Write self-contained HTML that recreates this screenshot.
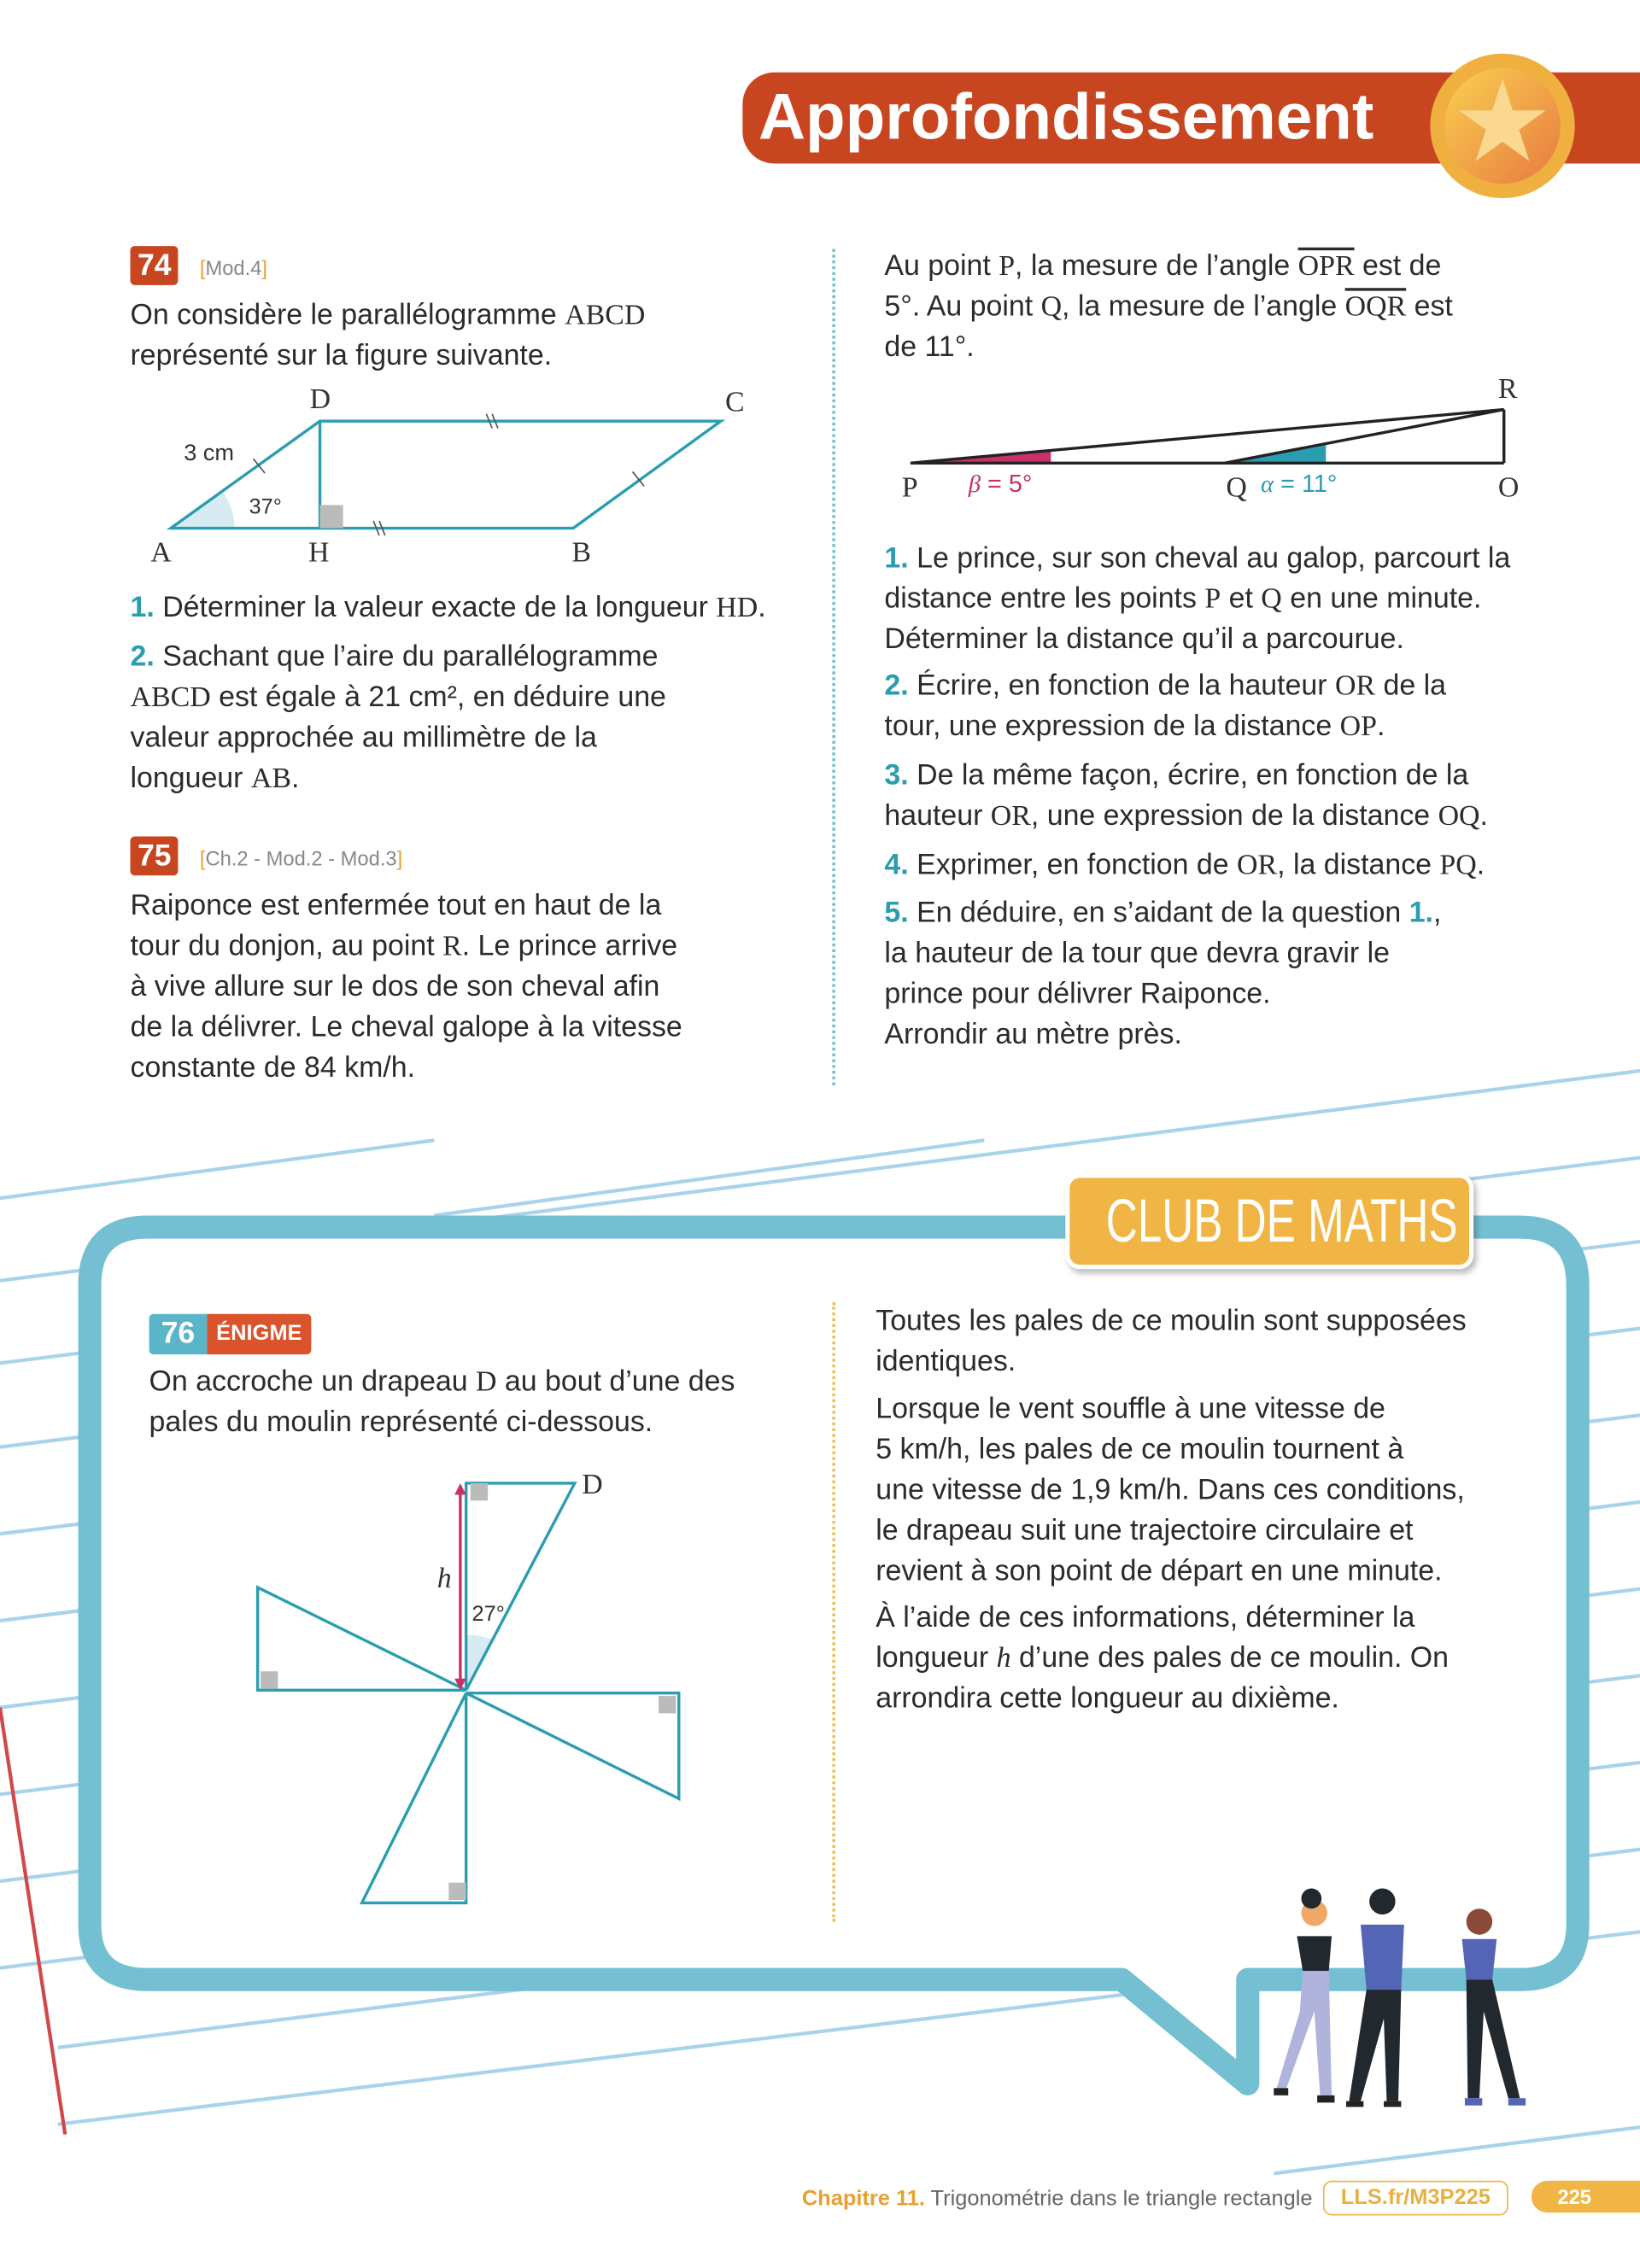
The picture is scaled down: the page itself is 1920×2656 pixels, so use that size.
<!DOCTYPE html>
<html><head><meta charset="utf-8">
<style>
html,body{margin:0;padding:0;background:#fff;}
body{width:1920px;height:2656px;overflow:hidden;position:relative;}
#pg{position:absolute;left:0;top:0;width:1133px;height:1567px;transform:scale(1.69462);transform-origin:0 0;font-family:"Liberation Sans",sans-serif;color:#2b2b2b;}
.t{position:absolute;font-size:20px;line-height:28px;white-space:nowrap;}
.s{font-family:"Liberation Serif",serif;}
.n{color:#2a9db0;font-weight:bold;}
.badge{position:absolute;background:#c8461f;color:#fff;font-weight:bold;font-size:21px;padding:0 5px;height:27px;line-height:27px;border-radius:3px;}
.ref{position:absolute;font-size:14px;color:#888;}
.ref b{color:#e8a030;font-weight:normal;}
</style></head><body>
<div id="pg">
<svg style="position:absolute;left:0;top:0" width="1133" height="1567">
<g stroke="#a9d3ec" stroke-width="2.5">
<line x1="0" y1="828" x2="300" y2="788"/>
<line x1="300" y1="840" x2="680" y2="788"/>
<line x1="0" y1="885" x2="1133" y2="740"/>
<line x1="0" y1="942" x2="1133" y2="800"/>
<line x1="0" y1="1000" x2="1133" y2="858"/>
<line x1="0" y1="1060" x2="1133" y2="918"/>
<line x1="0" y1="1120" x2="1133" y2="978"/>
<line x1="0" y1="1180" x2="1133" y2="1038"/>
<line x1="0" y1="1240" x2="1133" y2="1098"/>
<line x1="0" y1="1300" x2="1133" y2="1158"/>
<line x1="0" y1="1360" x2="1133" y2="1218"/>
<line x1="40" y1="1415" x2="1133" y2="1278"/>
<line x1="40" y1="1468" x2="1133" y2="1335"/>
<line x1="880" y1="1502" x2="1133" y2="1470"/>
</g>
<line x1="0" y1="1180" x2="45" y2="1475" stroke="#d0494a" stroke-width="2.5"/>
<path d="M102 848 H1050 Q1090 848 1090 888 V1330 Q1090 1368 1050 1368 H862 V1440 L775 1368 H102 Q62 1368 62 1330 V888 Q62 848 102 848 Z" fill="#fff" stroke="#75bfd2" stroke-width="16" stroke-linejoin="round"/>
</svg>
<div style="position:absolute;left:513px;top:50px;width:620px;height:63px;background:#c8461f;border-radius:22px 0 0 22px;"></div>
<div class="t" style="left:524px;top:52px;font-size:45px;line-height:58px;font-weight:bold;color:#fff;">Approfondissement</div>
<div style="position:absolute;left:988px;top:37px;width:100px;height:100px;border-radius:50%;background:#f0b040;"></div>
<div style="position:absolute;left:998px;top:47px;width:80px;height:80px;border-radius:50%;background:linear-gradient(135deg,#f9d050,#e87a40);"></div>
<div style="position:absolute;left:998px;top:44px;width:80px;text-align:center;font-size:78px;line-height:80px;color:#fbd890;">★</div>

<div class="badge" style="left:90px;top:170px;">74</div>
<div class="ref" style="left:138px;top:177px;"><b>[</b>Mod.4<b>]</b></div>
<div class="t" style="left:90px;top:204px;">On considère le parallélogramme <span class="s">ABCD</span><br>représenté sur la figure suivante.</div>
<svg style="position:absolute;left:90px;top:260px" width="450" height="140">
<path d="M28 105 L72 105 A 44 44 0 0 0 64 80 Z" fill="#d6ecf2"/>
<polygon points="28,105 306,105 408,31 131,31" fill="none" stroke="#2a9db0" stroke-width="2"/>
<line x1="131" y1="31" x2="131" y2="105" stroke="#2a9db0" stroke-width="2"/>
<rect x="131" y="89" width="16" height="16" fill="#bbb"/>
<g stroke="#555" stroke-width="1"><line x1="85" y1="57" x2="93" y2="67"/><line x1="246" y1="26" x2="250" y2="36"/><line x1="250" y1="26" x2="254" y2="36"/><line x1="168" y1="100" x2="172" y2="110"/><line x1="172" y1="100" x2="176" y2="110"/><line x1="347" y1="66" x2="355" y2="76"/></g>
<g font-family="Liberation Serif" font-size="20" fill="#333"><text x="14" y="128">A</text><text x="123" y="128">H</text><text x="305" y="128">B</text><text x="411" y="24">C</text><text x="124" y="22">D</text></g>
<text x="37" y="58" font-size="16" fill="#333">3 cm</text><text x="82" y="95" font-size="15" fill="#333">37°</text>
</svg>
<div class="t" style="left:90px;top:406px;"><span class="n">1.</span> Déterminer la valeur exacte de la longueur <span class="s">HD</span>.</div>
<div class="t" style="left:90px;top:440px;"><span class="n">2.</span> Sachant que l’aire du parallélogramme<br><span class="s">ABCD</span> est égale à 21 cm², en déduire une<br>valeur approchée au millimètre de la<br>longueur <span class="s">AB</span>.</div>

<div class="badge" style="left:90px;top:578px;">75</div>
<div class="ref" style="left:138px;top:585px;"><b>[</b>Ch.2 - Mod.2 - Mod.3<b>]</b></div>
<div class="t" style="left:90px;top:612px;">Raiponce est enfermée tout en haut de la<br>tour du donjon, au point <span class="s">R</span>. Le prince arrive<br>à vive allure sur le dos de son cheval afin<br>de la délivrer. Le cheval galope à la vitesse<br>constante de 84 km/h.</div>

<div style="position:absolute;left:575px;top:172px;height:578px;border-left:2px dotted #6cc0c8;"></div>
<div class="t" style="left:611px;top:170px;">Au point <span class="s">P</span>, la mesure de l’angle <span class="s" style="text-decoration:overline">OPR</span> est de<br>5°. Au point <span class="s">Q</span>, la mesure de l’angle <span class="s" style="text-decoration:overline">OQR</span> est<br>de 11°.</div>
<svg style="position:absolute;left:611px;top:255px" width="450" height="100">
<polygon points="18,65 115,57 115,65" fill="#c8306a"/>
<polygon points="235,65 305,51 305,65" fill="#2a9db0"/>
<g stroke="#222" stroke-width="2" fill="none"><line x1="18" y1="65" x2="428" y2="65"/><line x1="428" y1="65" x2="428" y2="28"/><line x1="18" y1="65" x2="428" y2="28"/><line x1="235" y1="65" x2="428" y2="28"/></g>
<g font-family="Liberation Serif" font-size="20" fill="#333"><text x="12" y="88">P</text><text x="236" y="88">Q</text><text x="424" y="88">O</text><text x="424" y="20">R</text></g>
<text x="58" y="85" font-size="17" fill="#c8306a"><tspan font-style="italic" font-family="Liberation Serif">β</tspan> = 5°</text>
<text x="260" y="85" font-size="17" fill="#2a9db0"><tspan font-style="italic" font-family="Liberation Serif">α</tspan> = 11°</text>
</svg>
<div class="t" style="left:611px;top:372px;"><span class="n">1.</span> Le prince, sur son cheval au galop, parcourt la<br>distance entre les points <span class="s">P</span> et <span class="s">Q</span> en une minute.<br>Déterminer la distance qu’il a parcourue.</div>
<div class="t" style="left:611px;top:460px;"><span class="n">2.</span> Écrire, en fonction de la hauteur <span class="s">OR</span> de la<br>tour, une expression de la distance <span class="s">OP</span>.</div>
<div class="t" style="left:611px;top:522px;"><span class="n">3.</span> De la même façon, écrire, en fonction de la<br>hauteur <span class="s">OR</span>, une expression de la distance <span class="s">OQ</span>.</div>
<div class="t" style="left:611px;top:584px;"><span class="n">4.</span> Exprimer, en fonction de <span class="s">OR</span>, la distance <span class="s">PQ</span>.</div>
<div class="t" style="left:611px;top:617px;"><span class="n">5.</span> En déduire, en s’aidant de la question <span class="n">1.</span>,<br>la hauteur de la tour que devra gravir le<br>prince pour délivrer Raiponce.<br>Arrondir au mètre près.</div>

<div style="position:absolute;left:736px;top:811px;width:276px;height:60px;background:#f0b545;border:3px solid #fff;border-radius:10px;box-shadow:2px 3px 4px rgba(0,0,0,.25);"></div>
<div style="position:absolute;left:764px;top:814px;color:#fff;font-size:42px;line-height:60px;white-space:nowrap;transform:scaleX(0.72);transform-origin:left;">CLUB DE MATHS</div>
<div style="position:absolute;left:103px;top:908px;width:40px;height:28px;background:#5ab5c8;color:#fff;font-weight:bold;font-size:21px;line-height:28px;text-align:center;border-radius:3px 0 0 3px;">76</div>
<div style="position:absolute;left:143px;top:908px;width:72px;height:28px;background:#d9532c;color:#fff;font-weight:bold;font-size:15px;line-height:28px;text-align:center;border-radius:0 3px 3px 0;">ÉNIGME</div>
<div class="t" style="left:103px;top:941px;">On accroche un drapeau <span class="s">D</span> au bout d’une des<br>pales du moulin représenté ci-dessous.</div>
<svg style="position:absolute;left:0;top:0" width="600" height="1400">
<path d="M322 1130 A38 38 0 0 1 340 1133 L322 1168Z" fill="#d6ecf2"/>
<g stroke="#2a9db0" stroke-width="2" fill="none">
<polyline points="322,1168 322,1025 397,1025 322,1168"/>
<polyline points="322,1168 178,1168 178,1097 322,1168"/>
<polyline points="322,1170 469,1170 469,1243 322,1170"/>
<polyline points="322,1170 322,1315 250,1315 322,1170"/>
</g>
<g fill="#bbb"><rect x="325" y="1025" width="12" height="12"/><rect x="180" y="1155" width="12" height="12"/><rect x="455" y="1172" width="12" height="12"/><rect x="310" y="1301" width="12" height="12"/></g>
<line x1="318" y1="1030" x2="318" y2="1163" stroke="#c8306a" stroke-width="2"/>
<polygon points="318,1025 314,1033 322,1033" fill="#c8306a"/><polygon points="318,1168 314,1160 322,1160" fill="#c8306a"/>
<text x="302" y="1097" font-family="Liberation Serif" font-style="italic" font-size="20" fill="#333">h</text>
<text x="326" y="1120" font-size="15" fill="#333">27°</text>
<text x="402" y="1032" font-family="Liberation Serif" font-size="20" fill="#333">D</text>
</svg>
<div style="position:absolute;left:575px;top:900px;height:428px;border-left:2px dotted #e8c050;"></div>
<div class="t" style="left:605px;top:899px;">Toutes les pales de ce moulin sont supposées<br>identiques.</div>
<div class="t" style="left:605px;top:960px;">Lorsque le vent souffle à une vitesse de<br>5 km/h, les pales de ce moulin tournent à<br>une vitesse de 1,9 km/h. Dans ces conditions,<br>le drapeau suit une trajectoire circulaire et<br>revient à son point de départ en une minute.</div>
<div class="t" style="left:605px;top:1104px;">À l’aide de ces informations, déterminer la<br>longueur <i class="s">h</i> d’une des pales de ce moulin. On<br>arrondira cette longueur au dixième.</div>

<svg style="position:absolute;left:860px;top:1300px" width="220" height="165">
<g><circle cx="48" cy="22" r="9" fill="#f0a868"/><circle cx="46" cy="12" r="7" fill="#22292e"/><path d="M36 38 L60 38 L58 62 L40 62Z" fill="#22292e"/><path d="M40 62 L58 62 L60 148 L52 148 L48 90 L28 145 L22 143 L38 90Z" fill="#b0b4dc"/>
<rect x="20" y="143" width="10" height="5" fill="#222"/><rect x="50" y="148" width="12" height="5" fill="#222"/></g>
<g><circle cx="95" cy="14" r="9" fill="#22292e"/><path d="M80 30 L110 30 L108 75 L84 75Z" fill="#5565b5"/><path d="M84 75 L108 75 L106 152 L98 152 L96 95 L80 152 L72 152Z" fill="#22292e"/><rect x="70" y="152" width="12" height="4" fill="#222"/><rect x="96" y="152" width="12" height="4" fill="#222"/></g>
<g><circle cx="162" cy="28" r="9" fill="#8a4a35"/><path d="M150 40 L174 40 L171 68 L153 68Z" fill="#5565b5"/><path d="M153 68 L171 68 L190 150 L182 150 L165 90 L162 150 L154 150Z" fill="#22292e"/><rect x="152" y="150" width="12" height="5" fill="#5565b5"/><rect x="182" y="150" width="12" height="5" fill="#5565b5"/></g>
</svg>

<div class="t" style="left:554px;top:1506px;font-size:15px;color:#666;"><b style="color:#e8a030">Chapitre 11.</b> Trigonométrie dans le triangle rectangle</div>
<div style="position:absolute;left:914px;top:1507px;width:126px;height:22px;border:1.5px solid #e8b850;border-radius:6px;color:#e8b040;font-weight:bold;font-size:15px;line-height:22px;text-align:center;">LLS.fr/M3P225</div>
<div style="position:absolute;left:1058px;top:1507px;width:80px;height:22px;background:#f0b545;border-radius:11px 0 0 11px;color:#fff;font-weight:bold;font-size:14px;line-height:22px;padding-left:18px;box-sizing:border-box;">225</div>
</div>
</body></html>
